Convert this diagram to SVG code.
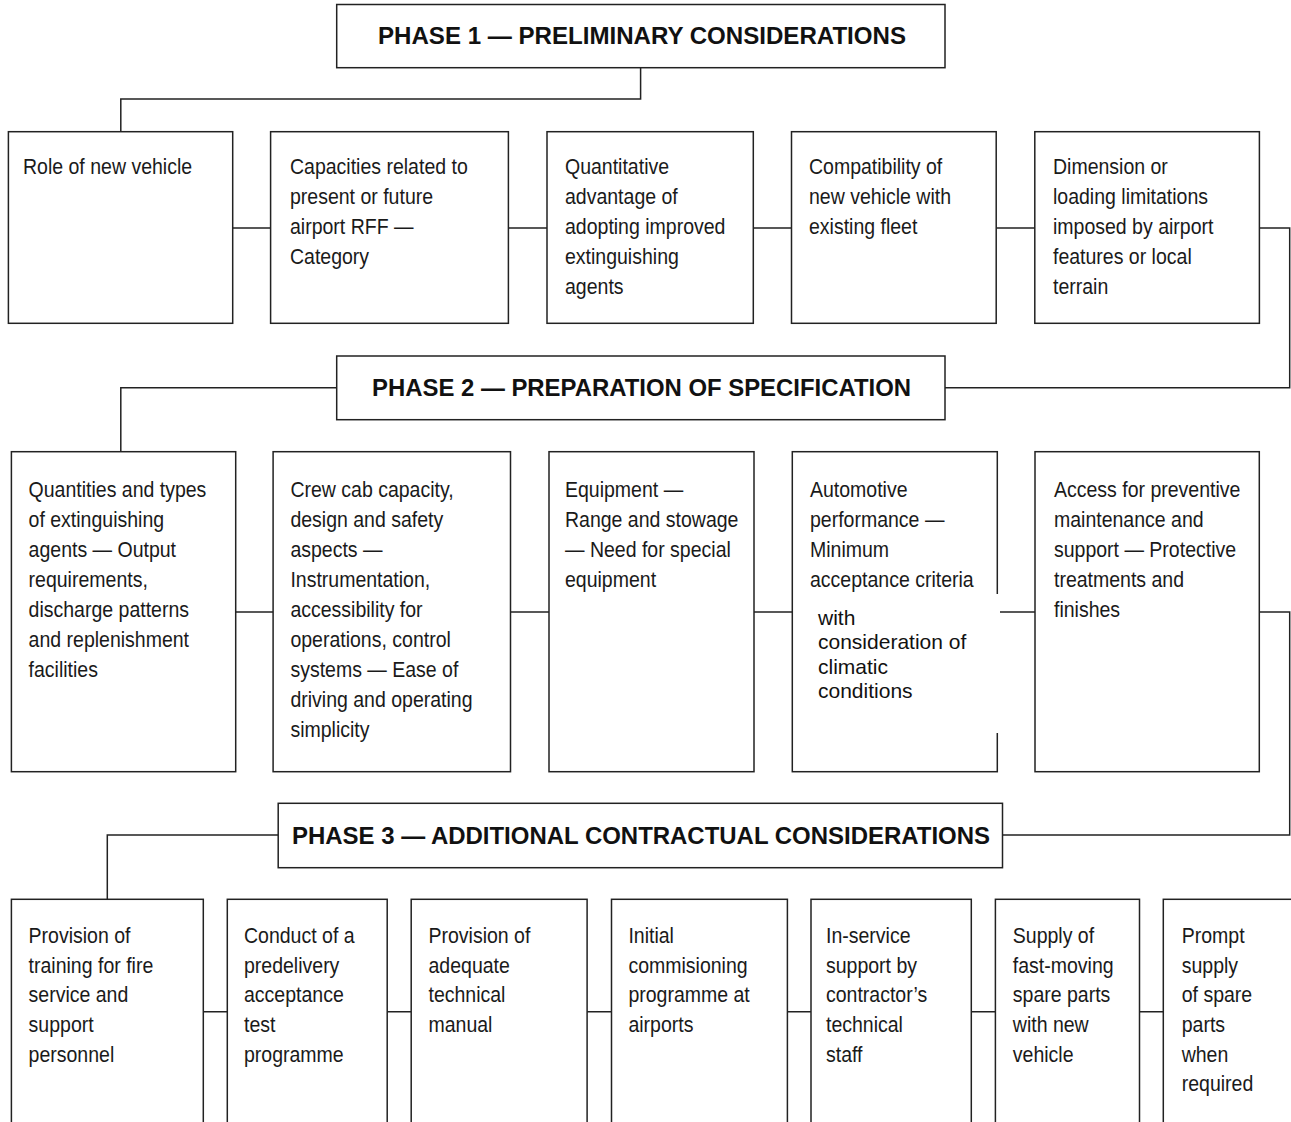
<svg xmlns="http://www.w3.org/2000/svg" width="1291" height="1122" viewBox="0 0 1291 1122">
<style>
  .box { fill: #ffffff; stroke: #222222; stroke-width: 1.5; }
  .conn { fill: none; stroke: #222222; stroke-width: 1.5; }
  .title { font-family: "Liberation Sans", Arial, sans-serif; font-weight: bold; font-size: 23px; fill: #111111; text-anchor: middle; }
  .t { font-family: "Liberation Sans", Arial, sans-serif; font-size: 22.5px; fill: #1a1a1a; }
  .t2 { font-family: "Liberation Sans", Arial, sans-serif; font-size: 21px; fill: #111111; }
</style>
<rect width="1291" height="1122" fill="#ffffff"/>

<g id="connectors">
  <path class="conn" d="M640.6 67.7 V99 H120.8 V131.7"/>
  <path class="conn" d="M232.7 228 H270.6 M508.4 228 H547 M753.3 228 H791.5 M996.2 228 H1034.8"/>
  <path class="conn" d="M1259.4 228 H1289.7 V387.7 H945"/>
  <path class="conn" d="M336.7 387.7 H120.8 V451.7"/>
  <path class="conn" d="M235.7 612 H273.1 M510.5 612 H549 M754 612 H792.3 M997.3 612 H1035"/>
  <path class="conn" d="M1259.3 612 H1289.7 V835 H1002.5"/>
  <path class="conn" d="M278.2 835 H107.3 V899.3"/>
  <path class="conn" d="M203.3 1011.7 H227.3 M387.2 1011.7 H411.2 M587.1 1011.7 H611.5 M787.4 1011.7 H811 M971.3 1011.7 H995.4 M1139.5 1011.7 H1163.3"/>
</g>

<g id="phase1">
  <rect class="box" x="336.7" y="4.5" width="608.3" height="63.2"/>
  <text class="title" x="642" y="44" textLength="528" lengthAdjust="spacingAndGlyphs">PHASE 1 — PRELIMINARY CONSIDERATIONS</text>
</g>

<g id="p1-role">
  <rect class="box" x="8.4" y="131.7" width="224.3" height="191.6"/>
  <text class="t" transform="translate(23,174) scale(0.867,1)"><tspan x="0" y="0">Role of new vehicle</tspan></text>
</g>
<g id="p1-capacities">
  <rect class="box" x="270.6" y="131.7" width="237.8" height="191.6"/>
  <text class="t" transform="translate(290,174) scale(0.867,1)"><tspan x="0" y="0">Capacities related to</tspan><tspan x="0" y="30">present or future</tspan><tspan x="0" y="60">airport RFF —</tspan><tspan x="0" y="90">Category</tspan></text>
</g>
<g id="p1-quantitative">
  <rect class="box" x="547" y="131.7" width="206.3" height="191.6"/>
  <text class="t" transform="translate(565,174) scale(0.867,1)"><tspan x="0" y="0">Quantitative</tspan><tspan x="0" y="30">advantage of</tspan><tspan x="0" y="60">adopting improved</tspan><tspan x="0" y="90">extinguishing</tspan><tspan x="0" y="120">agents</tspan></text>
</g>
<g id="p1-compatibility">
  <rect class="box" x="791.5" y="131.7" width="204.7" height="191.6"/>
  <text class="t" transform="translate(809,174) scale(0.867,1)"><tspan x="0" y="0">Compatibility of</tspan><tspan x="0" y="30">new vehicle with</tspan><tspan x="0" y="60">existing fleet</tspan></text>
</g>
<g id="p1-dimension">
  <rect class="box" x="1034.8" y="131.7" width="224.6" height="191.6"/>
  <text class="t" transform="translate(1053,174) scale(0.867,1)"><tspan x="0" y="0">Dimension or</tspan><tspan x="0" y="30">loading limitations</tspan><tspan x="0" y="60">imposed by airport</tspan><tspan x="0" y="90">features or local</tspan><tspan x="0" y="120">terrain</tspan></text>
</g>

<g id="phase2">
  <rect class="box" x="336.7" y="356" width="608.3" height="63.7"/>
  <text class="title" x="641.5" y="396" textLength="539" lengthAdjust="spacingAndGlyphs">PHASE 2 — PREPARATION OF SPECIFICATION</text>
</g>

<g id="p2-quantities">
  <rect class="box" x="11.4" y="451.7" width="224.3" height="320"/>
  <text class="t" transform="translate(28.6,497) scale(0.867,1)"><tspan x="0" y="0">Quantities and types</tspan><tspan x="0" y="30">of extinguishing</tspan><tspan x="0" y="60">agents — Output</tspan><tspan x="0" y="90">requirements,</tspan><tspan x="0" y="120">discharge patterns</tspan><tspan x="0" y="150">and replenishment</tspan><tspan x="0" y="180">facilities</tspan></text>
</g>
<g id="p2-crew">
  <rect class="box" x="273.1" y="451.7" width="237.4" height="320"/>
  <text class="t" transform="translate(290.4,497) scale(0.867,1)"><tspan x="0" y="0">Crew cab capacity,</tspan><tspan x="0" y="30">design and safety</tspan><tspan x="0" y="60">aspects —</tspan><tspan x="0" y="90">Instrumentation,</tspan><tspan x="0" y="120">accessibility for</tspan><tspan x="0" y="150">operations, control</tspan><tspan x="0" y="180">systems — Ease of</tspan><tspan x="0" y="210">driving and operating</tspan><tspan x="0" y="240">simplicity</tspan></text>
</g>
<g id="p2-equipment">
  <rect class="box" x="549" y="451.7" width="205" height="320"/>
  <text class="t" transform="translate(565,497) scale(0.867,1)"><tspan x="0" y="0">Equipment —</tspan><tspan x="0" y="30">Range and stowage</tspan><tspan x="0" y="60">— Need for special</tspan><tspan x="0" y="90">equipment</tspan></text>
</g>
<g id="p2-automotive">
  <rect class="box" x="792.3" y="451.7" width="205" height="320"/>
  <rect x="812" y="594" width="188" height="139" fill="#ffffff"/>
  <text class="t" transform="translate(810,497) scale(0.867,1)"><tspan x="0" y="0">Automotive</tspan><tspan x="0" y="30">performance —</tspan><tspan x="0" y="60">Minimum</tspan><tspan x="0" y="90">acceptance criteria</tspan></text>
  <text class="t2"><tspan x="818" y="625">with</tspan><tspan x="818" y="649.3">consideration of</tspan><tspan x="818" y="673.6">climatic</tspan><tspan x="818" y="698">conditions</tspan></text>
</g>
<g id="p2-access">
  <rect class="box" x="1035" y="451.7" width="224.3" height="320"/>
  <text class="t" transform="translate(1054,497) scale(0.867,1)"><tspan x="0" y="0">Access for preventive</tspan><tspan x="0" y="30">maintenance and</tspan><tspan x="0" y="60">support — Protective</tspan><tspan x="0" y="90">treatments and</tspan><tspan x="0" y="120">finishes</tspan></text>
</g>

<g id="phase3">
  <rect class="box" x="278.2" y="803.3" width="724.3" height="64.4"/>
  <text class="title" x="641" y="843.5" textLength="698" lengthAdjust="spacingAndGlyphs">PHASE 3 — ADDITIONAL CONTRACTUAL CONSIDERATIONS</text>
</g>

<g id="p3-training">
  <rect class="box" x="11.4" y="899.3" width="191.9" height="240"/>
  <text class="t" transform="translate(28.6,943) scale(0.867,1)"><tspan x="0" y="0">Provision of</tspan><tspan x="0" y="29.7">training for fire</tspan><tspan x="0" y="59.4">service and</tspan><tspan x="0" y="89.1">support</tspan><tspan x="0" y="118.8">personnel</tspan></text>
</g>
<g id="p3-acceptance">
  <rect class="box" x="227.3" y="899.3" width="159.9" height="240"/>
  <text class="t" transform="translate(244,943) scale(0.867,1)"><tspan x="0" y="0">Conduct of a</tspan><tspan x="0" y="29.7">predelivery</tspan><tspan x="0" y="59.4">acceptance</tspan><tspan x="0" y="89.1">test</tspan><tspan x="0" y="118.8">programme</tspan></text>
</g>
<g id="p3-manual">
  <rect class="box" x="411.2" y="899.3" width="175.9" height="240"/>
  <text class="t" transform="translate(428.5,943) scale(0.867,1)"><tspan x="0" y="0">Provision of</tspan><tspan x="0" y="29.7">adequate</tspan><tspan x="0" y="59.4">technical</tspan><tspan x="0" y="89.1">manual</tspan></text>
</g>
<g id="p3-commissioning">
  <rect class="box" x="611.5" y="899.3" width="175.9" height="240"/>
  <text class="t" transform="translate(628.4,943) scale(0.867,1)"><tspan x="0" y="0">Initial</tspan><tspan x="0" y="29.7">commisioning</tspan><tspan x="0" y="59.4">programme at</tspan><tspan x="0" y="89.1">airports</tspan></text>
</g>
<g id="p3-inservice">
  <rect class="box" x="811" y="899.3" width="160.3" height="240"/>
  <text class="t" transform="translate(826,943) scale(0.867,1)"><tspan x="0" y="0">In-service</tspan><tspan x="0" y="29.7">support by</tspan><tspan x="0" y="59.4">contractor’s</tspan><tspan x="0" y="89.1">technical</tspan><tspan x="0" y="118.8">staff</tspan></text>
</g>
<g id="p3-fastmoving">
  <rect class="box" x="995.4" y="899.3" width="144.1" height="240"/>
  <text class="t" transform="translate(1012.8,943) scale(0.867,1)"><tspan x="0" y="0">Supply of</tspan><tspan x="0" y="29.7">fast-moving</tspan><tspan x="0" y="59.4">spare parts</tspan><tspan x="0" y="89.1">with new</tspan><tspan x="0" y="118.8">vehicle</tspan></text>
</g>
<g id="p3-prompt">
  <rect class="box" x="1163.3" y="899.3" width="140" height="240"/>
  <text class="t" transform="translate(1181.7,943) scale(0.867,1)"><tspan x="0" y="0">Prompt</tspan><tspan x="0" y="29.7">supply</tspan><tspan x="0" y="59.4">of spare</tspan><tspan x="0" y="89.1">parts</tspan><tspan x="0" y="118.8">when</tspan><tspan x="0" y="148.5">required</tspan></text>
</g>
</svg>
